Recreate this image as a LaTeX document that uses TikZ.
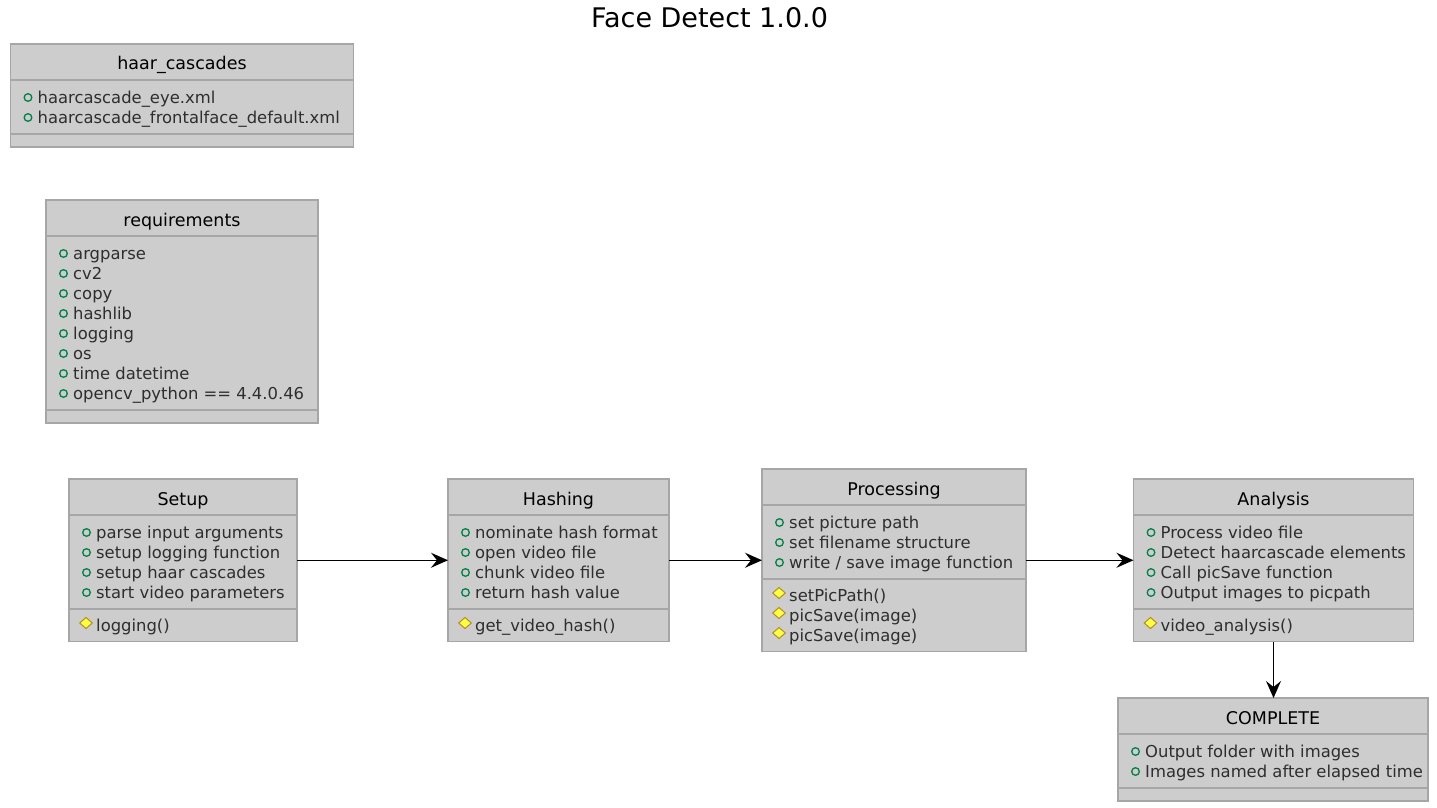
\documentclass[tikz,border=0pt]{standalone}
\usepackage{fontspec}
\setmainfont{DejaVu Sans}
\usetikzlibrary{arrows.meta}

\definecolor{boxfill}{HTML}{CDCDCD}
\definecolor{boxline}{HTML}{A6A6A6}
\definecolor{fieldgreen}{HTML}{038048}
\definecolor{methodfill}{HTML}{FFFF44}
\definecolor{methodline}{HTML}{B38D22}

% #1 name, #2 left, #3 top, #4 width, #5 title,
% #6 no. of fields, #7 fields, #8 no. of methods, #9 methods
\newcommand\umlclass[9]{%
  \pgfmathsetmacro\ya{#3+36}%
  \pgfmathsetmacro\yb{\ya+20*#6+14}%
  \pgfmathsetmacro\hh{\yb-#3+(#8>0 ? 20*#8+12.5 : 13)}%
  \node[classbox,minimum width=#4pt,minimum height=\hh pt] (#1) at (#2,#3) {};
  \draw[sepline] (#2,\ya) -- ++(#4,0) (#2,\yb) -- ++(#4,0);
  \node[classname] (#1-name) at ({#2+#4/2},#3+26) {#5};
  \foreach \t [count=\i] in {#7} {
    \draw[fieldicon] (#2+17.5,\ya+20*\i-2.5) circle (3.8pt);
    \node[member] (#1-f\i) at (#2+27,\ya+20*\i+3) {\t};
  }
  \ifnum#8>0
  \foreach \t [count=\i] in {#9} {
    \draw[methodicon] (#2+17,\yb+20*\i-11.5) -- ++(6.3,5.5) -- ++(-6.3,5.5)
      -- ++(-6.3,-5.5) -- cycle;
    \node[member] (#1-m\i) at (#2+27,\yb+20*\i+2.5) {\t};
  }\fi
}

\begin{document}
\begin{tikzpicture}[x=1pt,y=-1pt,
  classbox/.style={draw=boxline,fill=boxfill,line width=1.8pt,
    anchor=north west,outer sep=0pt,inner sep=0pt},
  sepline/.style={draw=boxline,line width=1.8pt},
  classname/.style={anchor=base,inner sep=0pt,
    font=\fontsize{17.5}{20}\selectfont},
  member/.style={anchor=base west,inner sep=0pt,text=black!82,
    font=\fontsize{16.4}{20}\selectfont},
  fieldicon/.style={draw=fieldgreen,line width=1.3pt},
  methodicon/.style={draw=methodline,fill=methodfill,line width=1pt},
  flow/.style={-{Stealth[length=17pt,width=15pt,inset=6pt]},line width=1.3pt},
  title/.style={anchor=base,inner sep=0pt,font=\fontsize{27}{30}\selectfont}
]
\path[use as bounding box,fill=white] (0,0) rectangle (1437,808);

\node[title] (title) at (709.5,28) {Face Detect 1.0.0};

\umlclass{haar}{10.5}{44}{343}{haar\_cascades}
  {2}{haarcascade\_eye.xml,haarcascade\_frontalface\_default.xml}{0}{}
\umlclass{requirements}{46}{200}{272}{requirements}
  {8}{argparse,cv2,copy,hashlib,logging,os,time datetime,
      opencv\_python == 4.4.0.46}{0}{}
\umlclass{setup}{69}{479}{228}{Setup}
  {4}{parse input arguments,setup logging function,setup haar cascades,
      start video parameters}{1}{logging()}
\umlclass{hashing}{448}{479}{221}{Hashing}
  {4}{nominate hash format,open video file,chunk video file,
      return hash value}{1}{get\_video\_hash()}
\umlclass{processing}{762}{469}{264}{Processing}
  {3}{set picture path,set filename structure,{write / save image function}}
  {3}{setPicPath(),picSave(image),picSave(image)}
\umlclass{analysis}{1133.5}{479}{280}{Analysis}
  {4}{Process video file,Detect haarcascade elements,Call picSave function,
      Output images to picpath}{1}{video\_analysis()}
\umlclass{complete}{1118}{698}{310}{COMPLETE}
  {2}{Output folder with images,Images named after elapsed time}{0}{}

\draw[flow] (setup.east) -- (hashing.west);
\draw[flow] (hashing.east) -- (processing.west |- hashing.east);
\draw[flow] (processing.east |- hashing.east) -- (analysis.west);
\draw[flow] (analysis.south) -- (analysis.south |- complete.north);
\end{tikzpicture}
\end{document}
